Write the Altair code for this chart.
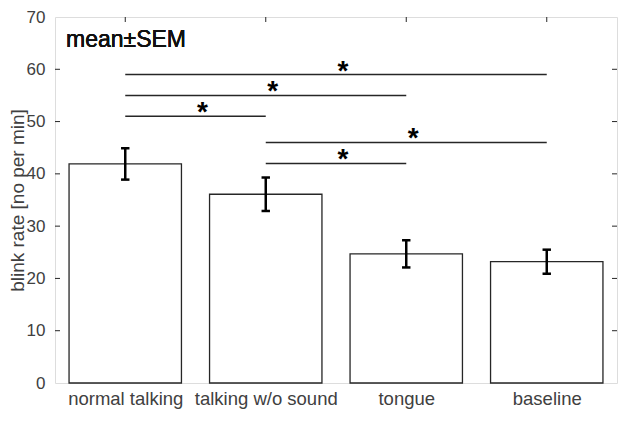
import altair as alt
import pandas as pd

categories = ["normal talking", "talking w/o sound", "tongue", "baseline"]
positions = [1, 2, 3, 4]
means = [41.9, 36.1, 24.7, 23.2]
sems = [3.0, 3.2, 2.6, 2.3]

sig_start = [1, 1, 1, 2, 2]
sig_end = [4, 3, 2, 4, 3]
sig_y = [59, 55, 51, 46, 42]
sig_label = ["*", "*", "*", "*", "*"]

y_ticks = [0, 10, 20, 30, 40, 50, 60, 70]
y_inner_ticks = [10, 20, 30, 40, 50, 60]

W, H = 562, 366
FONT = "Liberation Sans"
INK = "#262626"
LABEL = "#404040"

bars = pd.DataFrame({"cat": categories, "pos": positions, "mean": means, "sem": sems})
sig = pd.DataFrame({"x1": sig_start, "x2": sig_end, "y": sig_y, "lab": sig_label})
ticks_y = pd.DataFrame({"v": y_inner_ticks})
ticks_x = pd.DataFrame({"v": positions})

label_expr = "[" + ",".join("'" + c + "'" for c in categories) + "][datum.value-1]"

xscale = alt.Scale(domain=[0.5, 4.5], nice=False, zero=False)
yscale = alt.Scale(domain=[0, 70], nice=False)

x_axis = alt.Axis(values=positions, labelExpr=label_expr, grid=False, tickSize=0,
                  domain=False, labelFont=FONT, labelFontSize=18.5, labelColor=LABEL,
                  labelPadding=6, title=None)
y_axis = alt.Axis(values=y_ticks, grid=False, tickSize=0, domain=False,
                  labelFont=FONT, labelFontSize=17, labelColor=LABEL, labelPadding=10,
                  title="blink rate [no per min]", titleFont=FONT, titleFontSize=19,
                  titleFontWeight="normal", titleColor=LABEL,
                  titleAngle=270, titleBaseline="top", titleAlign="center",
                  titleX=-47, titleY=H / 2)

base = alt.Chart(bars).transform_calculate(
    left="datum.pos - 0.4", right="datum.pos + 0.4",
    lo="datum.mean - datum.sem", hi="datum.mean + datum.sem",
    capl="datum.pos - 0.03", capr="datum.pos + 0.03")

bar_layer = base.mark_bar(fill="white", stroke=INK, strokeWidth=1.3).encode(
    x=alt.X("left:Q", scale=xscale, axis=x_axis),
    x2="right:Q",
    y=alt.Y("mean:Q", scale=yscale, axis=y_axis),
    y2=alt.datum(0),
)

err = base.mark_rule(color="black", strokeWidth=2.5).encode(
    x="pos:Q", y="lo:Q", y2="hi:Q")
cap_lo = base.mark_rule(color="black", strokeWidth=2.5).encode(
    x="capl:Q", x2="capr:Q", y="lo:Q")
cap_hi = base.mark_rule(color="black", strokeWidth=2.5).encode(
    x="capl:Q", x2="capr:Q", y="hi:Q")

sig_base = alt.Chart(sig).transform_calculate(mid="(datum.x1 + datum.x2) / 2")
sig_lines = sig_base.mark_rule(color=INK, strokeWidth=1.5).encode(
    x="x1:Q", x2="x2:Q", y="y:Q")
sig_stars = sig_base.mark_text(font=FONT, fontSize=28, fontWeight="bold", color="black",
                               align="center", baseline="alphabetic", dx=7, dy=5).encode(
    x="mid:Q", y="y:Q", text="lab:N")

tick_left = alt.Chart(ticks_y).mark_rule(color=INK, strokeWidth=1).encode(
    y="v:Q", x=alt.value(0), x2=alt.value(5))
tick_right = alt.Chart(ticks_y).mark_rule(color=INK, strokeWidth=1).encode(
    y="v:Q", x=alt.value(W - 5), x2=alt.value(W))
tick_top = alt.Chart(ticks_x).mark_rule(color=INK, strokeWidth=1).encode(
    x="v:Q", y=alt.value(0), y2=alt.value(5))

note = alt.Chart(bars).mark_text(text="mean±SEM", font=FONT, fontSize=23, color="#111111",
                                 align="left", baseline="middle").encode(
    x=alt.value(11), y=alt.value(23))

chart = alt.layer(bar_layer, err, cap_lo, cap_hi, sig_lines, sig_stars,
                  tick_left, tick_right, tick_top, note).properties(
    width=W, height=H,
    autosize=alt.AutoSizeParams(type="none"),
    padding={"left": 47, "top": 9, "right": 1, "bottom": 26},
).configure_view(stroke=INK, strokeWidth=1).configure(background="white")

chart.save("out.html", embed_options={"renderer": "svg", "actions": False})
